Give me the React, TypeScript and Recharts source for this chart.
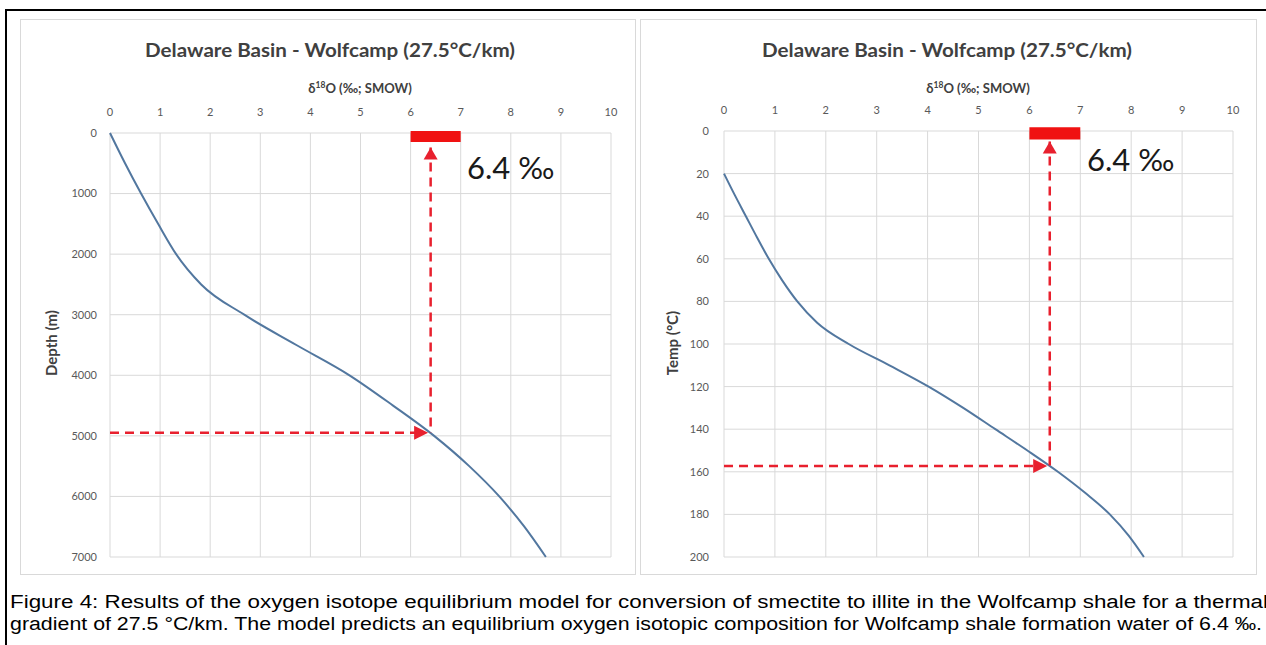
import React from 'react';
import {
  LineChart,
  Line,
  XAxis,
  YAxis,
  CartesianGrid,
  ReferenceLine,
  ReferenceArea,
  ReferenceDot,
} from 'recharts';

// ---------- data ----------
const chartTitle = 'Delaware Basin - Wolfcamp (27.5°C/km)';
const xTicks = [0, 1, 2, 3, 4, 5, 6, 7, 8, 9, 10];
const depthTicks = [0, 1000, 2000, 3000, 4000, 5000, 6000, 7000];
const tempTicks = [0, 20, 40, 60, 80, 100, 120, 140, 160, 180, 200];

const depthValues = [0, 500, 1000, 1500, 2000, 2500, 3000, 3500, 4000, 4500, 5000, 5500, 6000, 6500, 7000];
const depthD18O = [0, 0.3, 0.62, 0.96, 1.32, 1.82, 2.68, 3.72, 4.78, 5.65, 6.47, 7.17, 7.77, 8.27, 8.7];

const tempValues = [20, 30, 40, 50, 60, 70, 80, 90, 100, 110, 120, 130, 140, 150, 160, 170, 180, 190, 200];
const tempD18O = [0, 0.21, 0.43, 0.65, 0.88, 1.14, 1.44, 1.83, 2.45, 3.25, 4.02, 4.7, 5.33, 5.96, 6.56, 7.1, 7.58, 7.95, 8.25];

const answerD18O = 6.4;
const answerDepth = 4950;
const answerTemp = 157.3;
const barRange = [6, 7];
const answerLabel = '6.4 ‰';

const captionLine1 =
  'Figure 4: Results of the oxygen isotope equilibrium model for conversion of smectite to illite in the Wolfcamp shale for a thermal';
const captionLine2 =
  'gradient of 27.5 °C/km. The model predicts an equilibrium oxygen isotopic composition for Wolfcamp shale formation water of 6.4 ‰.';

const leftData = depthValues.map((v, i) => ({ d: depthD18O[i], v }));
const rightData = tempValues.map((v, i) => ({ d: tempD18O[i], v }));

// ---------- styles ----------
const FONT = 'Lato, "Open Sans", sans-serif';
const GRID = '#d9d9d9';
const LINE = '#52779f';
const RED = '#e8202e';
const BAR = '#f01212';
const LABEL = '#404040';
const TICK = { fontSize: 11, fill: '#595959', fontFamily: FONT };

const UpArrow = (p: any) => (
  <path
    d={`M${p.cx},${p.cy} L${p.cx - 7},${p.cy + 12} L${p.cx + 7},${p.cy + 12} Z`}
    fill={RED}
  />
);
const RightArrow = (p: any) => (
  <path
    d={`M${p.cx},${p.cy} L${p.cx - 14},${p.cy - 7} L${p.cx - 14},${p.cy + 7} Z`}
    fill={RED}
  />
);

type PanelProps = {
  data: { d: number; v: number }[];
  yTicks: number[];
  yDomain: [number, number];
  barY: [number, number];
  tipY: number;
  hitY: number;
  margin: { top: number; right: number; bottom: number; left: number };
  yWidth: number;
  yTickMargin: number;
  width: number;
};

function Panel(props: PanelProps) {
  const { data, yTicks, yDomain, barY, tipY, hitY, margin, yWidth, yTickMargin, width } = props;
  return (
    <LineChart width={width} height={555} data={data} margin={margin} style={{ fontFamily: FONT }}>
      <CartesianGrid stroke={GRID} strokeWidth={1} />
      <XAxis
        dataKey="d"
        type="number"
        orientation="top"
        domain={[0, 10]}
        ticks={xTicks}
        height={30}
        axisLine={false}
        tickLine={false}
        tickMargin={11}
        tick={TICK}
        interval={0}
      />
      <YAxis
        dataKey="v"
        type="number"
        domain={yDomain}
        ticks={yTicks}
        reversed
        width={yWidth}
        axisLine={false}
        tickLine={false}
        tickMargin={yTickMargin}
        tick={TICK}
        interval={0}
      />
      <Line
        dataKey="v"
        type="monotone"
        stroke={LINE}
        strokeWidth={2}
        dot={false}
        activeDot={false}
        isAnimationActive={false}
      />
      <ReferenceLine
        segment={[
          { x: answerD18O, y: tipY },
          { x: answerD18O, y: hitY },
        ]}
        stroke={RED}
        strokeWidth={2.5}
        strokeDasharray="9 6"
        ifOverflow="visible"
      />
      <ReferenceLine
        segment={[
          { x: 0, y: hitY },
          { x: answerD18O - 0.3, y: hitY },
        ]}
        stroke={RED}
        strokeWidth={2.5}
        strokeDasharray="9 6"
        ifOverflow="visible"
      />
      <ReferenceDot x={answerD18O} y={tipY} r={1} shape={UpArrow} ifOverflow="visible" />
      <ReferenceDot x={answerD18O - 0.05} y={hitY} r={1} shape={RightArrow} ifOverflow="visible" />
      <ReferenceArea
        x1={barRange[0]}
        x2={barRange[1]}
        y1={barY[0]}
        y2={barY[1]}
        fill={BAR}
        fillOpacity={1}
        stroke="none"
        ifOverflow="visible"
      />
    </LineChart>
  );
}

function AxisTitle({ x, y }: { x: number; y: number }) {
  return (
    <text x={x} y={y} textAnchor="middle" fontFamily={FONT} fontWeight={700} fontSize={13} fill={LABEL}>
      <tspan>δ</tspan>
      <tspan fontSize={8.5} dy={-5}>18</tspan>
      <tspan dy={5}>O (‰; SMOW)</tspan>
    </text>
  );
}

export default function App() {
  return (
    <div
      style={{
        position: 'fixed',
        left: 0,
        top: 0,
        width: 1266,
        height: 645,
        overflow: 'hidden',
        background: '#fff',
      }}
    >
      {/* panel frames */}
      <div style={{ position: 'absolute', left: 20, top: 19, width: 614, height: 554, border: `1px solid ${GRID}` }} />
      <div style={{ position: 'absolute', left: 640, top: 19, width: 615, height: 554, border: `1px solid ${GRID}` }} />

      <div style={{ position: 'absolute', left: 20, top: 19 }}>
        <Panel
          data={leftData}
          yTicks={depthTicks}
          yDomain={[0, 7000]}
          barY={[-33, 150]}
          tipY={240}
          hitY={answerDepth}
          margin={{ top: 84, right: 24, bottom: 17, left: 40 }}
          yWidth={50}
          yTickMargin={7}
          width={615}
        />
      </div>
      <div style={{ position: 'absolute', left: 640, top: 19 }}>
        <Panel
          data={rightData}
          yTicks={tempTicks}
          yDomain={[0, 200]}
          barY={[-1.8, 4]}
          tipY={4.9}
          hitY={answerTemp}
          margin={{ top: 82, right: 23, bottom: 17, left: 39 }}
          yWidth={45}
          yTickMargin={9}
          width={616}
        />
      </div>

      <svg
        width={1266}
        height={645}
        style={{ position: 'absolute', left: 0, top: 0, pointerEvents: 'none' }}
      >
        {/* outer frame */}
        <rect x={5} y={9} width={1261} height={2} fill="#000" />
        <rect x={5} y={9} width={2} height={636} fill="#000" />
        {/* chart titles */}
        <text
          x={330}
          y={57}
          textAnchor="middle"
          fontFamily={FONT}
          fontWeight={700}
          fontSize={18}
          fill={LABEL}
          textLength={370}
          lengthAdjust="spacingAndGlyphs"
        >
          {chartTitle}
        </text>
        <text
          x={947}
          y={57}
          textAnchor="middle"
          fontFamily={FONT}
          fontWeight={700}
          fontSize={18}
          fill={LABEL}
          textLength={370}
          lengthAdjust="spacingAndGlyphs"
        >
          {chartTitle}
        </text>
        {/* axis titles */}
        <AxisTitle x={360} y={93} />
        <AxisTitle x={978} y={93} />
        <text
          transform="translate(51,343) rotate(-90)"
          textAnchor="middle"
          dominantBaseline="central"
          fontFamily={FONT}
          fontWeight={700}
          fontSize={15}
          fill={LABEL}
        >
          Depth (m)
        </text>
        <text
          transform="translate(672,343) rotate(-90)"
          textAnchor="middle"
          dominantBaseline="central"
          fontFamily={FONT}
          fontWeight={700}
          fontSize={15}
          fill={LABEL}
        >
          Temp (°C)
        </text>
        {/* answer annotations */}
        <text x={467} y={179} fontFamily={FONT} fontSize={31} fill="#1a1a1a">
          {answerLabel}
        </text>
        <text x={1087} y={171} fontFamily={FONT} fontSize={31} fill="#1a1a1a">
          {answerLabel}
        </text>
        {/* caption */}
        <text
          x={10}
          y={608}
          fontFamily='"Liberation Sans", Arial, sans-serif'
          fontSize={18}
          fill="#000"
          textLength={1258}
          lengthAdjust="spacingAndGlyphs"
        >
          {captionLine1}
        </text>
        <text
          x={10}
          y={630}
          fontFamily='"Liberation Sans", Arial, sans-serif'
          fontSize={18}
          fill="#000"
          textLength={1252}
          lengthAdjust="spacingAndGlyphs"
        >
          {captionLine2}
        </text>
      </svg>
    </div>
  );
}
